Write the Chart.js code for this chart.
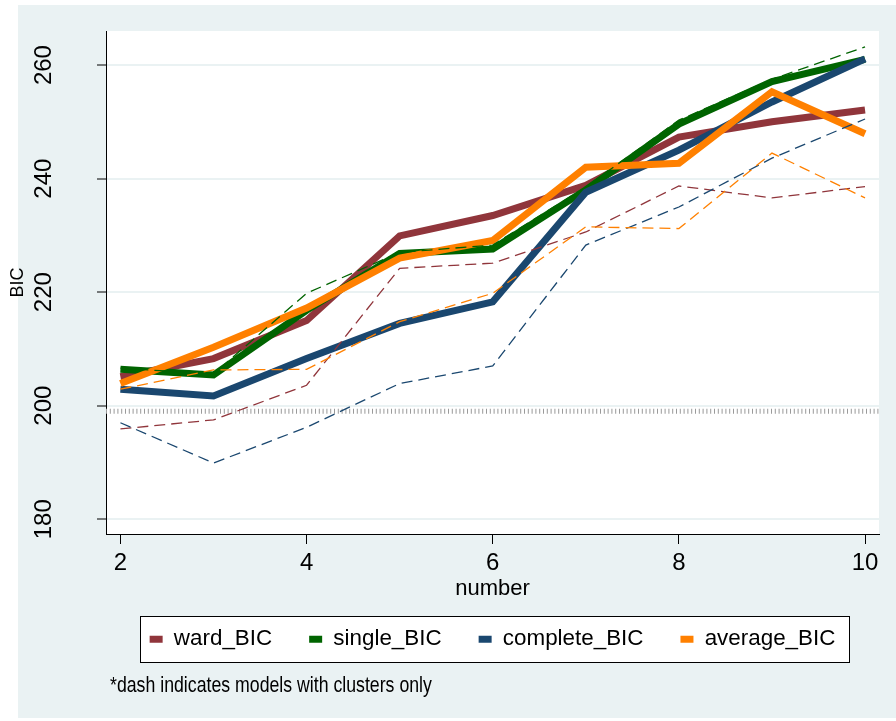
<!DOCTYPE html>
<html>
<head>
<meta charset="utf-8">
<title>BIC by number of clusters</title>
<script src="https://cdn.jsdelivr.net/npm/chart.js@4/dist/chart.umd.min.js"></script>
<style>
  html, body { margin: 0; padding: 0; background: #ffffff; }
  canvas { display: block; }
</style>
</head>
<body>
<canvas id="bicChart" width="896" height="721"></canvas>
<script>
// Number of clusters on the x axis
const numbers = [2, 3, 4, 5, 6, 7, 8, 9, 10];

// BIC of the full models (thick solid lines)
const wardBIC     = [205.1, 208.3, 215.0, 229.9, 233.5, 238.8, 247.3, 250.0, 252.1];
const singleBIC   = [206.4, 205.4, 216.8, 226.8, 227.6, 238.0, 249.6, 257.1, 261.0];
const completeBIC = [202.9, 201.7, 208.3, 214.5, 218.3, 237.6, 245.0, 253.5, 261.1];
const averageBIC  = [203.9, 210.3, 217.2, 226.0, 229.1, 242.0, 242.7, 255.3, 247.9];

// BIC of the models with clusters only (thin dashed lines)
const wardClustersBIC     = [195.9, 197.5, 203.6, 224.2, 225.1, 230.6, 238.7, 236.6, 238.6];
const singleClustersBIC   = [206.6, 205.6, 219.8, 227.0, 228.3, 238.5, 250.3, 257.5, 263.2];
const completeClustersBIC = [197.0, 189.9, 196.2, 203.9, 207.0, 228.3, 235.0, 243.6, 250.5];
const averageClustersBIC  = [202.9, 206.3, 206.4, 214.8, 219.8, 231.5, 231.2, 244.5, 236.6];

// Baseline BIC drawn as a dotted reference line
const baselineBIC = 199.0;

// Series names and texts
const seriesLabels = ['ward_BIC', 'single_BIC', 'complete_BIC', 'average_BIC'];
const xTitle = 'number';
const yTitle = 'BIC';
const note = '*dash indicates models with clusters only';

// Axis ranges and tick steps
const xRange = [1.845, 10.15];
const yRange = [177.4, 266.0];
const xStep = 2;
const yStep = 20;

// Styling
const palette = ['#90353b', '#006400', '#1a476f', '#ff8000'];
const FONT = "'Liberation Sans', Arial, Helvetica, sans-serif";
const PANEL = '#eaf2f3';

const toPoints = values => numbers.map((n, i) => ({ x: n, y: values[i] }));

function solidLine(label, values, colour, order) {
  return {
    label, data: toPoints(values), order,
    borderColor: colour, backgroundColor: colour,
    borderWidth: 7, pointRadius: 0, tension: 0,
    borderCapStyle: 'butt', borderJoinStyle: 'miter'
  };
}

function dashedLine(label, values, colour, order) {
  return {
    label, data: toPoints(values), order,
    borderColor: colour, backgroundColor: colour,
    borderWidth: 1.3, borderDash: [11, 6], pointRadius: 0, tension: 0
  };
}

const datasets = [
  solidLine(seriesLabels[0], wardBIC, palette[0], 9),
  solidLine(seriesLabels[1], singleBIC, palette[1], 8),
  solidLine(seriesLabels[2], completeBIC, palette[2], 7),
  solidLine(seriesLabels[3], averageBIC, palette[3], 6),
  dashedLine(seriesLabels[0] + ' (clusters)', wardClustersBIC, palette[0], 5),
  dashedLine(seriesLabels[1] + ' (clusters)', singleClustersBIC, palette[1], 4),
  dashedLine(seriesLabels[2] + ' (clusters)', completeClustersBIC, palette[2], 3),
  dashedLine(seriesLabels[3] + ' (clusters)', averageClustersBIC, palette[3], 2),
  {
    label: 'baseline', order: 10,
    data: [{ x: xRange[0], y: baselineBIC }, { x: xRange[1], y: baselineBIC }],
    borderColor: '#9a9a9a', backgroundColor: '#9a9a9a',
    borderWidth: 5, borderDash: [1, 2.8], borderCapStyle: 'butt', pointRadius: 0
  }
];

// Frame around the legend row, derived from the legend's own hit boxes
function legendFrame(chart) {
  const boxes = chart.legend && chart.legend.legendHitBoxes;
  if (!boxes || !boxes.length) return null;
  const first = boxes[0];
  const last = boxes[boxes.length - 1];
  const cy = first.top + first.height / 2;
  return {
    l: Math.round(first.left - 10) + 0.5,
    r: Math.round(last.left + last.width + 14) + 0.5,
    t: Math.round(cy - 23) + 0.5,
    b: Math.round(cy + 23) + 0.5
  };
}

// Graph region, plot region and the framed legend background
const backdrop = {
  id: 'backdrop',
  beforeDraw(chart) {
    const { ctx, chartArea: a, width, height } = chart;
    ctx.save();
    ctx.fillStyle = '#ffffff';
    ctx.fillRect(0, 0, width, height);
    ctx.fillStyle = PANEL;
    ctx.fillRect(18, 5, width - 18, height - 8);
    ctx.fillStyle = '#ffffff';
    ctx.fillRect(a.left, a.top, a.right - a.left, a.bottom - a.top);

    const f = legendFrame(chart);
    if (f) {
      ctx.fillStyle = '#ffffff';
      ctx.fillRect(f.l, f.t, f.r - f.l, f.b - f.t);
      ctx.strokeStyle = '#000000';
      ctx.lineWidth = 1;
      ctx.strokeRect(f.l, f.t, f.r - f.l, f.b - f.t);
    }
    ctx.restore();
  }
};

// Footnote under the legend, set in a condensed face
const footnote = {
  id: 'footnote',
  afterDraw(chart) {
    const f = legendFrame(chart);
    if (!f) return;
    const { ctx, chartArea: a } = chart;
    ctx.save();
    ctx.fillStyle = '#000000';
    ctx.font = '22px ' + FONT;
    ctx.textAlign = 'left';
    ctx.textBaseline = 'alphabetic';
    ctx.translate(a.left + 4, f.b + 29);
    ctx.scale(0.805, 1);
    ctx.fillText(note, 0, 0);
    ctx.restore();
  }
};

new Chart(document.getElementById('bicChart'), {
  type: 'line',
  data: { datasets },
  plugins: [backdrop, footnote],
  options: {
    responsive: false,
    animation: false,
    devicePixelRatio: 1,
    layout: { padding: { left: 7, right: 17, top: 31, bottom: 60.6 } },
    plugins: {
      tooltip: { enabled: false },
      title: { display: false },
      legend: {
        position: 'bottom',
        fullSize: false,
        labels: {
          boxWidth: 13, boxHeight: 7, padding: 37,
          color: '#000000',
          font: { family: FONT, size: 22.4 },
          generateLabels(chart) {
            return Chart.defaults.plugins.legend.labels.generateLabels(chart)
              .filter(item => item.datasetIndex < seriesLabels.length)
              .sort((p, q) => p.datasetIndex - q.datasetIndex)
              .map(item => Object.assign(item, { lineWidth: 0, lineDash: [], fillStyle: item.strokeStyle }));
          }
        }
      }
    },
    scales: {
      x: {
        type: 'linear',
        min: xRange[0], max: xRange[1],
        afterFit(scale) { scale.height = 57; scale.paddingLeft = 0; scale.paddingRight = 0; },
        ticks: {
          stepSize: xStep, includeBounds: false, autoSkip: false,
          minRotation: 0, maxRotation: 0, padding: 5,
          color: '#000000', font: { family: FONT, size: 24 }
        },
        grid: { drawOnChartArea: false, drawTicks: true, tickLength: 10, tickColor: '#000000', tickWidth: 1 },
        border: { display: true, color: '#000000', width: 1 },
        title: {
          display: true, text: xTitle, color: '#000000',
          font: { family: FONT, size: 22 }, padding: { top: 0, bottom: -11 }
        }
      },
      y: {
        type: 'linear',
        min: yRange[0], max: yRange[1],
        afterFit(scale) { scale.width = 99; scale.paddingTop = 0; scale.paddingBottom = 0; },
        ticks: {
          stepSize: yStep, includeBounds: false, autoSkip: false,
          minRotation: 90, maxRotation: 90, crossAlign: 'center', padding: 33,
          color: '#000000', font: { family: FONT, size: 24 }
        },
        grid: { color: PANEL, lineWidth: 2, drawTicks: true, tickLength: 9, tickColor: '#000000', tickWidth: 1 },
        border: { display: true, color: '#000000', width: 1 },
        title: {
          display: true, text: yTitle, color: '#000000',
          font: { family: FONT, size: 18 }, padding: 0
        }
      }
    }
  }
});
</script>
</body>
</html>
